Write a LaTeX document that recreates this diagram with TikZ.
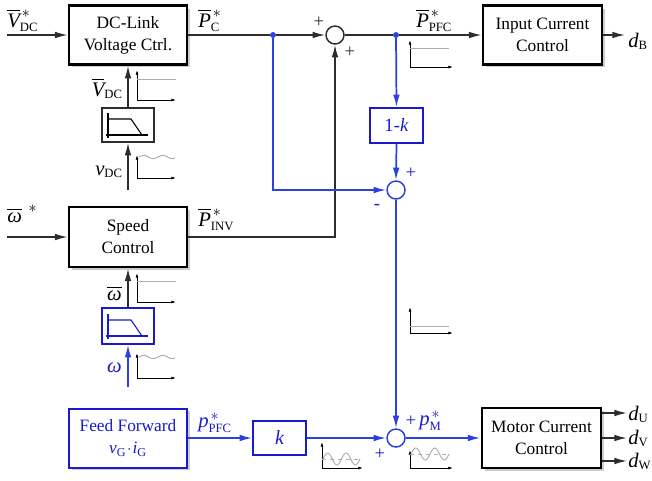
\documentclass[tikz,border=0pt]{standalone}
\usepackage{amsmath}
\usepackage{fontspec}
\setmainfont{Liberation Serif}
\DeclareMathSizes{15.5}{15.5}{9.5}{7}
\usetikzlibrary{arrows.meta,shadows,calc}
\definecolor{bT}{RGB}{25,25,205}
\definecolor{bL}{RGB}{45,65,225}
\definecolor{dk}{RGB}{45,45,45}
\newcommand\st{\text{\fontsize{12}{12}\selectfont$\ast$}}
\newcommand\lst{\raisebox{-3pt}{\st}}
\newcommand\filtin[3]{\begin{scope}[shift={(#1,#2)},draw=#3,line width=0.8pt]
  \draw (6,5) -- (6,30); \draw (4,27) -- (46,27); \draw (6,11) -- (29,11) -- (40,27);
\end{scope}}
\newcommand\gax[4]{\draw[gaxis] (#1,#3) -- (#1,#2); \draw[gaxis] (#1,#3) -- (#4,#3);}
\begin{document}
\begin{tikzpicture}[x=0.75pt,y=-0.75pt,
  font=\fontsize{13}{16.5}\selectfont,
  >={Latex[length=9.5pt,width=5pt]},
  ctrl/.style={draw=black,line width=2.1pt,fill=white,align=center,inner sep=0pt,minimum width=88.5pt,minimum height=44pt,drop shadow={opacity=0.4,shadow xshift=2pt,shadow yshift=-2.2pt}},
  bctrl/.style={ctrl,draw=bT,text=bT,line width=1.5pt},
  gain/.style={draw=bT,line width=1.1pt,fill=white,text=bT,inner sep=0pt,minimum width=39.75pt,minimum height=25.5pt},
  filt/.style={draw=dk,line width=1pt,fill=white,minimum width=39pt,minimum height=25.5pt,inner sep=0pt},
  sumc/.style={circle,draw,line width=1.1pt,minimum size=13.5pt,inner sep=0pt,fill=white},
  wire/.style={draw=dk,line width=1.1pt},
  bwire/.style={draw=bL,line width=1.3pt},
  dot/.style={circle,fill=bL,inner sep=0pt,minimum size=4.2pt},
  gaxis/.style={black,line width=0.6pt,-{Latex[length=3.5pt,width=2.2pt]}},
  gsig/.style={gray!65,line width=0.7pt},
  lbl/.style={inner sep=0pt,font=\fontsize{15.5}{18}\selectfont},
  sgn/.style={inner sep=0pt,font=\fontsize{14}{16}\selectfont},
]
\useasboundingbox (0,0) rectangle (652,480);

% blocks
\node[ctrl] (dcl) at (128,35) {DC-Link\\Voltage Ctrl.};
\node[ctrl,minimum width=89.25pt] (icc) at (542.5,35) {Input Current\\Control};
\node[ctrl,minimum height=45pt] (spd) at (128,237) {Speed\\Control};
\node[bctrl,minimum height=44.25pt] (ff) at (128,438) {Feed Forward\\$\text{\itshape v}_{\text{G}}\!\cdot\!\text{\itshape i}_{\text{G}}$};
\node[ctrl,minimum width=89.25pt,minimum height=45pt] (mcc) at (541.5,438) {Motor Current\\Control};
\node[gain,font=\fontsize{15}{17}\selectfont] (kk) at (279.5,438) {\itshape k};
\node[gain,minimum height=26.25pt,font=\fontsize{14}{17}\selectfont] (onek) at (396.5,125.5) {1-\textit{k}};
\node[filt] (f1) at (128,125) {};
\filtin{102}{108}{black}
\node[filt,draw=bT,minimum height=27pt] (f2) at (128,326) {};
\filtin{102}{309}{bT}

\node[sumc,draw=dk] (s1) at (335,35) {};
\node[sumc,draw=bL] (s2) at (396,190) {};
\node[sumc,draw=bL] (s3) at (396,438) {};

\node[dot] (d1) at (273,35) {};
\node[dot] (d2) at (396,35) {};

\coordinate (in1) at (7,35);
\coordinate (in2) at (7,237);
\coordinate (dbo) at (625,35);
\coordinate (vdcin) at (128,190);
\coordinate (omin) at (128,387);
\coordinate (pinv) at (335,237);
\coordinate (bend) at (273,190);
\coordinate (ou) at (627,413);
\coordinate (ov) at (627,438);
\coordinate (ow) at (627,461);

% black wires
\draw[wire,->] (in1) -- (dcl.west);
\draw[wire] (dcl.east) -- (d1);
\draw[wire,->] (d1) -- (s1.west);
\draw[wire] (s1.east) -- (d2);
\draw[wire,->] (d2) -- (icc.west);
\draw[wire,->] (icc.east) -- (dbo);
\draw[wire,->] (in2) -- (spd.west);
\draw[wire,->] (spd.east) -- (pinv) -- (s1.south);
\draw[wire,->] (vdcin) -- (f1.south);
\draw[wire,->] (f1.north) -- (dcl.south);
\draw[wire,->] (f2.north) -- (spd.south);
\draw[wire,->] (mcc.east |- ou) -- (ou);
\draw[wire,->] (mcc.east |- ov) -- (ov);
\draw[wire,->] (mcc.east |- ow) -- (ow);

% blue wires
\draw[bwire,->] (d2) -- (onek.north);
\draw[bwire,->] (onek.south) -- (s2.north);
\draw[bwire,->] (d1) -- (bend) -- (s2.west);
\draw[bwire,->] (s2.south) -- (s3.north);
\draw[bwire,->] (omin) -- (f2.south);
\draw[bwire,->] (ff.east) -- (kk.west);
\draw[bwire,->] (kk.east) -- (s3.west);
\draw[bwire,->] (s3.east) -- (mcc.west);
\node[dot] at (d1) {};
\node[dot] at (d2) {};

% labels
\node[lbl,anchor=base west] (l1) at (7,27) {$\overline{\text{\itshape V}}^{\,\lst}_{\text{DC}}$};
\node[lbl,anchor=base west] (l2) at (198,27) {$\overline{\text{\itshape P}}^{\,\lst}_{\text{C}}$};
\node[lbl,anchor=base west] (l3) at (416,27) {$\overline{\text{\itshape P}}^{\,\lst}_{\text{PFC}}$};
\node[lbl,anchor=base west] (l4) at (628,47) {$\text{\itshape d}_{\text{B}}$};
\node[lbl,anchor=base east] (l5) at (123,96) {$\overline{\text{\itshape V}}_{\text{DC}}$};
\node[lbl,anchor=base east] (l6) at (123,175) {$\text{\itshape v}_{\text{DC}}$};
\node[lbl,anchor=base west] (l7) at (7,222) {$\overline{\text{\itshape ω}}^{\;\;\st}$};
\node[lbl,anchor=base west] (l8) at (198,226) {$\overline{\text{\itshape P}}^{\,\lst}_{\text{INV}}$};
\node[lbl,anchor=base east] (l9) at (122,300) {$\overline{\text{\itshape ω}}$};
\node[lbl,anchor=base east,text=bT] (l10) at (122,372) {\itshape ω};
\node[lbl,anchor=base west,text=bT] (l11) at (198,427) {$\text{\itshape p}^{\,\st}_{\text{PFC}}$};
\node[lbl,anchor=base west,text=bT] (l12) at (419,425) {$\text{\itshape p}^{\,\st}_{\text{M}}$};
\node[lbl,anchor=base west] (l13) at (628,420) {$\text{\itshape d}_{\text{U}}$};
\node[lbl,anchor=base west] (l14) at (628,444) {$\text{\itshape d}_{\text{V}}$};
\node[lbl,anchor=base west] (l15) at (628,467) {$\text{\itshape d}_{\text{W}}$};

\node[sgn,text=dk] (p1) at (319,22) {+};
\node[sgn,text=dk] (p2) at (350,52) {+};
\node[sgn,text=bT] (p3) at (411,173) {+};
\node[sgn,text=bT] (p4) at (377,207) {-};
\node[sgn,text=bT] (p5) at (411,421) {+};
\node[sgn,text=bT] (p6) at (380,454) {+};

% small graphs
\gax{137}{70}{100}{176}
\draw[gsig] (137,79) -- (176,79);
\gax{137}{155}{178}{176}
\draw[gsig] plot[domain=0:1.9,samples=40] ({139+\x*19},{157-1.6*sin(\x*360)});
\gax{410}{40}{67}{453}
\draw[gsig] (410,48) -- (449,48);
\gax{137}{273}{302}{176}
\draw[gsig] (137,281) -- (176,281);
\gax{137}{353}{378}{176}
\draw[gsig] plot[domain=0:1.9,samples=40] ({139+\x*19},{357-1.6*sin(\x*360)});
\gax{410}{307}{333}{453}
\draw[gsig] (410,326) -- (449,326);
\gax{322}{442}{468}{363}
\draw[gsig,dashed,line width=0.5pt] (322,459) -- (360,459);
\draw[gsig] plot[domain=0:2,samples=50] ({323+\x*18.5},{459-6*sin(\x*360)});
\gax{410}{450}{468}{453}
\draw[gsig,dashed,line width=0.5pt] (410,454) -- (450,454);
\draw[gsig] plot[domain=0:2,samples=50] ({411+\x*19},{454-6*sin(\x*360)});
\end{tikzpicture}
\end{document}
